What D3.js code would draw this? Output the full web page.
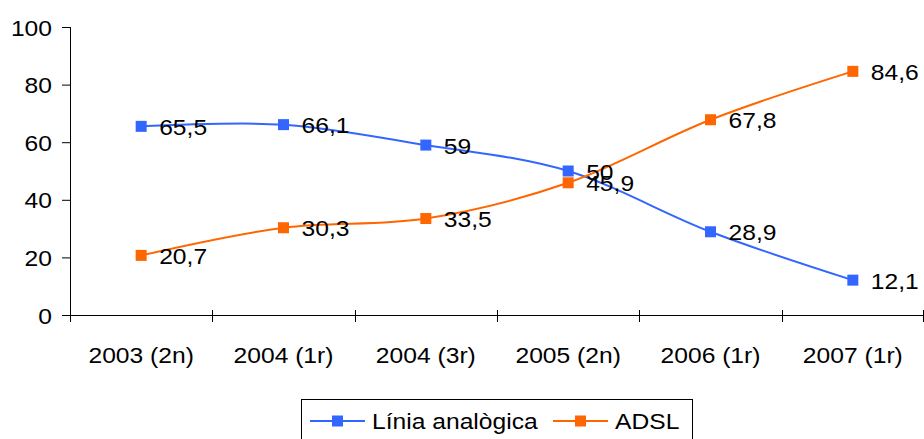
<!DOCTYPE html>
<html>
<head>
<meta charset="utf-8">
<script src="https://cdn.jsdelivr.net/npm/d3@7"></script>
<style>
  body { margin: 0; background: #fff; }
  svg text { font-family: "Liberation Sans", Arial, sans-serif; fill: #000; }
</style>
</head>
<body>
<div id="chart"></div>
<script>
const categories = ["2003 (2n)", "2004 (1r)", "2004 (3r)", "2005 (2n)", "2006 (1r)", "2007 (1r)"];
const analogica = [65.5, 66.1, 59, 50, 28.9, 12.1];
const adsl = [20.7, 30.3, 33.5, 45.9, 67.8, 84.6];
const yTicks = [0, 20, 40, 60, 80, 100];
const seriesNames = ["Línia analògica", "ADSL"];
const seriesColors = ["#3366ff", "#ff6600"];

const width = 924, height = 439;
const plotLeft = 70, plotRight = 924, plotTop = 27, plotBottom = 315;

// text in the picture is slightly stretched sideways
const stretch = 1.12;
const fontSize = 22;

const svg = d3.select("#chart").append("svg")
    .attr("width", width)
    .attr("height", height);

const x = d3.scaleBand().domain(categories).range([plotLeft, plotRight]);
const y = d3.scaleLinear().domain([0, 100]).range([plotBottom, plotTop]);

const label = (g, tx, ty, txt, anchor) => {
    g.append("text")
        .attr("transform", "translate(" + tx + "," + ty + ") scale(" + stretch + ",1)")
        .attr("text-anchor", anchor)
        .attr("dominant-baseline", "central")
        .style("font-size", fontSize + "px")
        .text(txt);
};

// y axis
svg.append("line")
    .attr("x1", plotLeft + 0.5).attr("x2", plotLeft + 0.5)
    .attr("y1", y(100)).attr("y2", y(0))
    .attr("stroke", "#000");

yTicks.forEach(t => {
    svg.append("line")
        .attr("x1", plotLeft - 8).attr("x2", plotLeft)
        .attr("y1", y(t) + 0.5).attr("y2", y(t) + 0.5)
        .attr("stroke", "#000");
    label(svg, plotLeft - 18, y(t) + 1, t, "end");
});

// x axis
svg.append("line")
    .attr("x1", plotLeft).attr("x2", plotRight)
    .attr("y1", plotBottom + 0.5).attr("y2", plotBottom + 0.5)
    .attr("stroke", "#000");

const edges = categories.map(c => x(c)).concat([plotRight - 1]);
edges.forEach(e => {
    svg.append("line")
        .attr("x1", Math.round(e) + 0.5).attr("x2", Math.round(e) + 0.5)
        .attr("y1", plotBottom - 5).attr("y2", plotBottom + 7)
        .attr("stroke", "#000");
});

categories.forEach(c => {
    label(svg, x(c) + x.bandwidth() / 2, 355, c, "middle");
});

// lines
const cx = c => x(c) + x.bandwidth() / 2;
const line = d3.line()
    .x((d, i) => cx(categories[i]))
    .y(d => y(d))
    .curve(d3.curveCardinal.tension(0));

[analogica, adsl].forEach((vals, s) => {
    svg.append("path")
        .datum(vals)
        .attr("d", line)
        .attr("fill", "none")
        .attr("stroke", seriesColors[s])
        .attr("stroke-width", 2);

    svg.selectAll(".m" + s)
        .data(vals)
        .enter()
        .append("rect")
        .attr("class", "m" + s)
        .attr("x", (d, i) => cx(categories[i]) - 5.5)
        .attr("y", d => y(d) - 5.5)
        .attr("width", 11)
        .attr("height", 11)
        .attr("fill", seriesColors[s]);
});

[analogica, adsl].forEach(vals => {
    vals.forEach((v, i) => {
        label(svg, cx(categories[i]) + 18, y(v) + 1, v.toString().replace(".", ","), "start");
    });
});

// legend
svg.append("rect")
    .attr("x", 301.5).attr("y", 399.5)
    .attr("width", 391).attr("height", 50)
    .attr("fill", "none")
    .attr("stroke", "#000");

const legendX = [310, 553];
seriesNames.forEach((name, s) => {
    const lx = legendX[s];
    svg.append("line")
        .attr("x1", lx).attr("x2", lx + 55)
        .attr("y1", 421).attr("y2", 421)
        .attr("stroke", seriesColors[s])
        .attr("stroke-width", 2);
    svg.append("rect")
        .attr("x", lx + 22).attr("y", 415.5)
        .attr("width", 11).attr("height", 11)
        .attr("fill", seriesColors[s]);
    label(svg, lx + 62, 421, name, "start");
});
</script>
</body>
</html>
